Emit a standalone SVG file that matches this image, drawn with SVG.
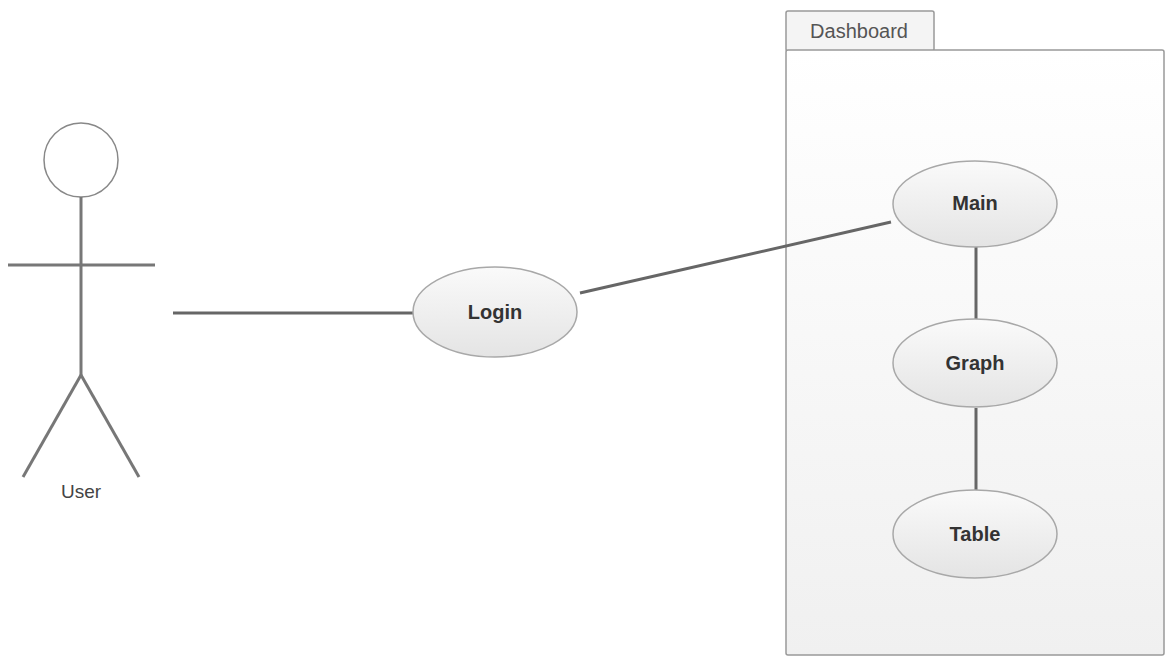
<svg xmlns="http://www.w3.org/2000/svg" width="1165" height="657" viewBox="0 0 1165 657">
<defs>
<linearGradient id="uc" x1="0" y1="0" x2="0" y2="1">
<stop offset="0" stop-color="#fafafa"/>
<stop offset="1" stop-color="#e4e4e4"/>
</linearGradient>
<linearGradient id="pkg" x1="0" y1="0" x2="0" y2="1">
<stop offset="0" stop-color="#ffffff"/>
<stop offset="1" stop-color="#f0f0f0"/>
</linearGradient>
</defs>
<style>
.uc{fill:url(#uc);stroke:#a8a8a8;stroke-width:1.5}
.lbl{font-family:"Liberation Sans",Arial,sans-serif;font-size:20px;font-weight:bold;fill:#333;text-anchor:middle}
.conn{stroke:#666;stroke-width:3;fill:none}
.actor{stroke:#777;stroke-width:3;fill:none}
</style>
<rect width="1165" height="657" fill="#fff"/>
<g id="dashboard">
<rect x="786" y="11" width="148" height="40" rx="2" fill="#f4f4f4" stroke="#999" stroke-width="1.5"/>
<rect x="786" y="50" width="378" height="605" rx="2" fill="url(#pkg)" stroke="#999" stroke-width="1.5"/>
<text x="859" y="38" font-family="'Liberation Sans',Arial,sans-serif" font-size="20" fill="#555" text-anchor="middle">Dashboard</text>
</g>
<g id="connectors">
<line class="conn" x1="173" y1="313" x2="413" y2="313"/>
<line class="conn" x1="580" y1="293" x2="891" y2="222"/>
<line class="conn" x1="976" y1="247" x2="976" y2="319"/>
<line class="conn" x1="976" y1="408" x2="976" y2="490"/>
</g>
<g id="user">
<circle cx="81" cy="160" r="37" fill="#fff" stroke="#888" stroke-width="1.5"/>
<line class="actor" x1="81" y1="197" x2="81" y2="375"/>
<line class="actor" x1="8" y1="265" x2="155" y2="265"/>
<line class="actor" x1="81" y1="375" x2="23" y2="477"/>
<line class="actor" x1="81" y1="375" x2="139" y2="477"/>
<text x="81" y="498" font-family="'Liberation Sans',Arial,sans-serif" font-size="19" fill="#444" text-anchor="middle">User</text>
</g>
<g id="login">
<ellipse class="uc" cx="495" cy="312" rx="82" ry="45"/>
<text class="lbl" x="495" y="319">Login</text>
</g>
<g id="main">
<ellipse class="uc" cx="975" cy="204" rx="82" ry="43"/>
<text class="lbl" x="975" y="210">Main</text>
</g>
<g id="graph">
<ellipse class="uc" cx="975" cy="363" rx="82" ry="44"/>
<text class="lbl" x="975" y="370">Graph</text>
</g>
<g id="table">
<ellipse class="uc" cx="975" cy="534" rx="82" ry="44"/>
<text class="lbl" x="975" y="541">Table</text>
</g>
</svg>
